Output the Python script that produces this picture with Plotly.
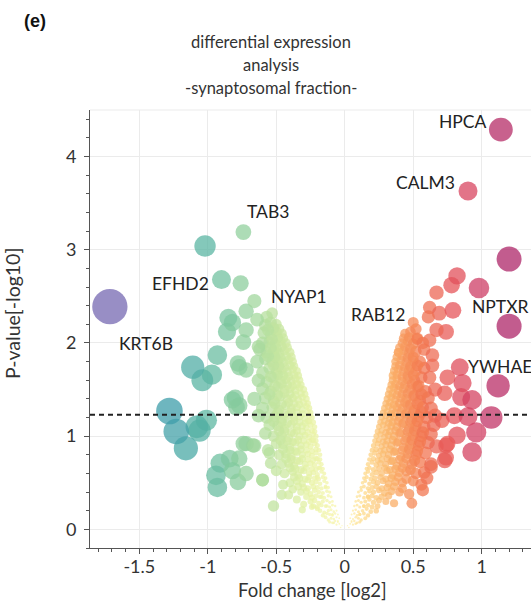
import plotly.graph_objects as go

# ---------------- data ----------------
# down-regulated proteins: fold change [log2] and p-value [-log10]
neg_fc = [
    -0.02, -0.04, -0.06, -0.08, -0.03,
    -0.04, -0.06, -0.08, -0.10, -0.12, -0.14, -0.05, -0.09,
    -0.06, -0.08, -0.10, -0.12, -0.15, -0.18, -0.20, -0.13,
    -0.09, -0.11, -0.13, -0.16, -0.19, -0.22, -0.25, -0.30, -0.35, -0.17,
    -0.11, -0.13, -0.16, -0.19, -0.22, -0.25, -0.28, -0.32, -0.38, -0.14,
    -0.13, -0.15, -0.18, -0.21, -0.24, -0.27, -0.31, -0.35, -0.40, -0.45, -0.20,
    -0.15, -0.17, -0.20, -0.23, -0.26, -0.30, -0.34, -0.38, -0.44, -0.50, -0.19,
    -0.17, -0.19, -0.22, -0.25, -0.29, -0.33, -0.37, -0.41, -0.46, -0.21,
    -0.18, -0.21, -0.24, -0.27, -0.31, -0.35, -0.39, -0.43, -0.48, -0.55,
    -0.20, -0.22, -0.25, -0.28, -0.32, -0.36, -0.40, -0.45, -0.50, -0.24,
    -0.21, -0.23, -0.26, -0.29, -0.33, -0.37, -0.41, -0.46, -0.52, -0.58,
    -0.22, -0.25, -0.28, -0.31, -0.35, -0.39, -0.44, -0.49, -0.55, -0.27,
    -0.24, -0.26, -0.29, -0.33, -0.37, -0.41, -0.46, -0.51, -0.57, -0.63,
    -0.26, -0.28, -0.31, -0.35, -0.39, -0.43, -0.48, -0.53, -0.60,
    -0.28, -0.31, -0.34, -0.38, -0.42, -0.47, -0.52, -0.58, -0.66,
    -0.30, -0.33, -0.36, -0.40, -0.44, -0.49, -0.54, -0.60,
    -0.33, -0.36, -0.39, -0.43, -0.47, -0.52, -0.57, -0.63,
    -0.35, -0.38, -0.42, -0.46, -0.50, -0.55, -0.60,
    -0.38, -0.41, -0.45, -0.49, -0.53, -0.58, -0.64,
    -0.40, -0.44, -0.48, -0.52, -0.57, -0.62,
    -0.43, -0.47, -0.51, -0.55, -0.60,
    -0.46, -0.50, -0.54, -0.59,
    -0.50, -0.54, -0.58,
    -0.53, -0.57,
    # in-between dots of the dense wedge
    -0.05, -0.07, -0.09, -0.11,
    -0.05, -0.07, -0.09, -0.11, -0.13, -0.16,
    -0.07, -0.09, -0.11, -0.14, -0.17, -0.20, -0.23,
    -0.10, -0.12, -0.15, -0.18, -0.21, -0.24, -0.28,
    -0.12, -0.14, -0.17, -0.20, -0.23, -0.27, -0.30, -0.34,
    -0.14, -0.16, -0.19, -0.22, -0.26, -0.29, -0.33, -0.37,
    -0.16, -0.18, -0.21, -0.24, -0.28, -0.32, -0.36, -0.40,
    -0.18, -0.20, -0.23, -0.27, -0.31, -0.35, -0.39, -0.43,
    -0.19, -0.21, -0.24, -0.28, -0.32, -0.36, -0.40, -0.45,
    -0.21, -0.23, -0.26, -0.30, -0.34, -0.38, -0.42, -0.47,
    -0.22, -0.24, -0.27, -0.31, -0.35, -0.39, -0.44, -0.48,
    -0.23, -0.26, -0.29, -0.33, -0.37, -0.42, -0.46, -0.52,
    -0.25, -0.27, -0.31, -0.35, -0.39, -0.44, -0.49,
    -0.27, -0.30, -0.33, -0.37, -0.41, -0.46, -0.51,
    -0.29, -0.32, -0.36, -0.40, -0.44, -0.49, -0.55,
    -0.32, -0.35, -0.38, -0.42, -0.46, -0.51,
    -0.34, -0.37, -0.41, -0.45, -0.49, -0.54,
    -0.37, -0.40, -0.44, -0.48, -0.52,
    -0.39, -0.43, -0.47, -0.51, -0.56,
    -0.42, -0.46, -0.50, -0.54,
    -0.45, -0.49, -0.53,
    -0.48, -0.52, -0.56,
    # scattered larger dots
    -0.52, -0.60, -0.46, -0.41, -0.31, -0.24, -0.74, -0.67, -0.54, -0.56,
    -0.72, -0.66, -0.77, -0.80, -0.72, -0.63, -0.77, -0.78, -0.82, -0.79,
    -0.64, -0.72, -0.74, -0.86, -0.82, -0.85, -0.72, -0.66, -0.76, -0.90,
    -0.74, -1.02, -0.93, -0.97, -1.04, -1.11, -0.91, -0.94, -0.93, -0.84,
    -0.77, -0.82, -0.78, -0.72, -0.60, -1.01, -1.06, -1.08, -1.16, -1.23,
    -1.28, -1.715,
]
neg_p = [
    0.04, 0.06, 0.05, 0.07, 0.02,
    0.12, 0.13, 0.11, 0.12, 0.10, 0.13, 0.09, 0.16,
    0.20, 0.19, 0.21, 0.20, 0.18, 0.20, 0.22, 0.25,
    0.30, 0.29, 0.31, 0.30, 0.28, 0.31, 0.30, 0.27, 0.32, 0.35,
    0.40, 0.41, 0.39, 0.40, 0.42, 0.38, 0.41, 0.40, 0.43, 0.45,
    0.50, 0.52, 0.49, 0.51, 0.50, 0.53, 0.49, 0.52, 0.50, 0.48, 0.56,
    0.60, 0.62, 0.59, 0.61, 0.60, 0.63, 0.58, 0.62, 0.60, 0.63, 0.66,
    0.70, 0.72, 0.69, 0.71, 0.70, 0.73, 0.68, 0.71, 0.70, 0.76,
    0.80, 0.82, 0.79, 0.81, 0.80, 0.83, 0.78, 0.81, 0.80, 0.82,
    0.90, 0.92, 0.89, 0.91, 0.90, 0.93, 0.88, 0.91, 0.92, 0.96,
    1.00, 1.02, 0.99, 1.01, 1.00, 1.03, 0.98, 1.01, 1.00, 1.03,
    1.10, 1.12, 1.09, 1.11, 1.10, 1.13, 1.08, 1.11, 1.12, 1.16,
    1.20, 1.22, 1.19, 1.21, 1.20, 1.23, 1.18, 1.21, 1.20, 1.22,
    1.30, 1.32, 1.29, 1.31, 1.30, 1.33, 1.28, 1.31, 1.30,
    1.40, 1.42, 1.39, 1.41, 1.40, 1.43, 1.38, 1.41, 1.40,
    1.50, 1.52, 1.49, 1.51, 1.50, 1.53, 1.48, 1.51,
    1.60, 1.62, 1.59, 1.61, 1.60, 1.63, 1.58, 1.60,
    1.70, 1.72, 1.69, 1.71, 1.70, 1.73, 1.68,
    1.80, 1.82, 1.79, 1.81, 1.80, 1.83, 1.80,
    1.90, 1.92, 1.89, 1.91, 1.90, 1.93,
    2.00, 2.02, 1.99, 2.01, 2.00,
    2.10, 2.12, 2.09, 2.11,
    2.20, 2.22, 2.19,
    2.32, 2.28,
    0.08, 0.09, 0.07, 0.08,
    0.16, 0.17, 0.15, 0.16, 0.17, 0.15,
    0.25, 0.26, 0.24, 0.25, 0.26, 0.24, 0.25,
    0.35, 0.36, 0.34, 0.35, 0.36, 0.34, 0.35,
    0.45, 0.46, 0.44, 0.45, 0.46, 0.44, 0.45, 0.46,
    0.55, 0.56, 0.54, 0.55, 0.56, 0.54, 0.55, 0.56,
    0.65, 0.66, 0.64, 0.65, 0.66, 0.64, 0.65, 0.66,
    0.75, 0.76, 0.74, 0.75, 0.76, 0.74, 0.75, 0.76,
    0.85, 0.86, 0.84, 0.85, 0.86, 0.84, 0.85, 0.86,
    0.95, 0.96, 0.94, 0.95, 0.96, 0.94, 0.95, 0.96,
    1.05, 1.06, 1.04, 1.05, 1.06, 1.04, 1.05, 1.06,
    1.15, 1.16, 1.14, 1.15, 1.16, 1.14, 1.15, 1.16,
    1.25, 1.26, 1.24, 1.25, 1.26, 1.24, 1.25,
    1.35, 1.36, 1.34, 1.35, 1.36, 1.34, 1.35,
    1.45, 1.46, 1.44, 1.45, 1.46, 1.44, 1.45,
    1.55, 1.56, 1.54, 1.55, 1.56, 1.54,
    1.65, 1.66, 1.64, 1.65, 1.66, 1.64,
    1.75, 1.76, 1.74, 1.75, 1.76,
    1.85, 1.86, 1.84, 1.85, 1.86,
    1.95, 1.96, 1.94, 1.95,
    2.05, 2.06, 2.04,
    2.15, 2.16, 2.14,
    0.25, 0.53, 0.37, 0.37, 0.21, 0.24, 0.92, 0.90, 0.71, 0.85,
    0.92, 0.90, 1.33, 1.41, 1.71, 1.96, 1.74, 1.78, 1.39, 1.31,
    2.25, 2.14, 2.01, 2.12, 2.22, 2.27, 2.34, 2.45, 2.64, 2.68,
    3.19, 3.04, 1.87, 1.66, 1.60, 1.74, 0.71, 0.58, 0.45, 0.76,
    0.76, 0.63, 0.51, 0.60, 0.53, 1.17, 1.06, 1.10, 0.87, 1.05,
    1.27, 2.39,
]

# up-regulated proteins
pos_fc = [
    0.02, 0.04, 0.06, 0.08, 0.03,
    0.04, 0.06, 0.08, 0.10, 0.12, 0.15, 0.05,
    0.06, 0.08, 0.10, 0.13, 0.16, 0.19, 0.23, 0.11,
    0.08, 0.10, 0.12, 0.15, 0.18, 0.21, 0.25, 0.30, 0.36, 0.14,
    0.10, 0.12, 0.15, 0.18, 0.21, 0.25, 0.29, 0.34, 0.40, 0.47, 0.17,
    0.13, 0.15, 0.18, 0.21, 0.24, 0.28, 0.32, 0.37, 0.42, 0.50, 0.56,
    0.15, 0.17, 0.20, 0.23, 0.27, 0.31, 0.35, 0.40, 0.45, 0.52, 0.58,
    0.17, 0.20, 0.23, 0.26, 0.30, 0.34, 0.38, 0.43, 0.49, 0.55, 0.63,
    0.19, 0.22, 0.25, 0.28, 0.32, 0.36, 0.41, 0.46, 0.52, 0.59,
    0.21, 0.24, 0.27, 0.30, 0.34, 0.38, 0.43, 0.48, 0.54, 0.61, 0.67,
    0.23, 0.26, 0.29, 0.32, 0.36, 0.40, 0.45, 0.50, 0.56, 0.63,
    0.25, 0.28, 0.31, 0.34, 0.38, 0.42, 0.47, 0.52, 0.58, 0.65,
    0.27, 0.30, 0.33, 0.36, 0.40, 0.44, 0.49, 0.54, 0.60, 0.66,
    0.29, 0.32, 0.35, 0.38, 0.42, 0.46, 0.51, 0.57, 0.63,
    0.31, 0.34, 0.37, 0.41, 0.45, 0.50, 0.55, 0.61,
    0.33, 0.36, 0.39, 0.43, 0.48, 0.53, 0.59, 0.66,
    0.35, 0.38, 0.42, 0.46, 0.51, 0.56,
    0.36, 0.39, 0.43, 0.47, 0.52, 0.58,
    0.37, 0.41, 0.45, 0.50, 0.55,
    0.39, 0.43, 0.47, 0.52, 0.58,
    0.42, 0.46, 0.50,
    0.44, 0.48, 0.52,
    # in-between dots of the dense wedge
    0.05, 0.07, 0.09, 0.11,
    0.05, 0.07, 0.09, 0.11, 0.14, 0.17,
    0.07, 0.09, 0.11, 0.14, 0.17, 0.20, 0.24,
    0.09, 0.11, 0.14, 0.17, 0.20, 0.23, 0.27, 0.32,
    0.12, 0.14, 0.17, 0.20, 0.23, 0.27, 0.31, 0.36, 0.42,
    0.14, 0.16, 0.19, 0.22, 0.26, 0.30, 0.34, 0.39, 0.45,
    0.16, 0.18, 0.21, 0.25, 0.29, 0.33, 0.37, 0.42, 0.48,
    0.18, 0.21, 0.24, 0.27, 0.31, 0.35, 0.40, 0.45, 0.51,
    0.20, 0.23, 0.26, 0.29, 0.33, 0.37, 0.42, 0.47, 0.53,
    0.22, 0.25, 0.28, 0.31, 0.35, 0.39, 0.44, 0.49, 0.55,
    0.24, 0.27, 0.30, 0.33, 0.37, 0.41, 0.46, 0.51, 0.57,
    0.26, 0.29, 0.32, 0.35, 0.39, 0.43, 0.48, 0.53,
    0.28, 0.31, 0.34, 0.37, 0.41, 0.45, 0.50, 0.56,
    0.30, 0.33, 0.36, 0.40, 0.44, 0.48, 0.53,
    0.32, 0.35, 0.38, 0.42, 0.46, 0.51, 0.56,
    0.34, 0.37, 0.40, 0.44, 0.49, 0.54,
    0.35, 0.38, 0.42, 0.46, 0.50,
    0.37, 0.40, 0.44, 0.48, 0.53,
    0.38, 0.42, 0.46, 0.50,
    0.40, 0.44, 0.48,
    0.43, 0.47,
    # scattered larger dots
    0.50, 0.39, 0.53, 0.67, 0.62, 0.69, 0.61, 0.74, 0.67, 0.53,
    0.62, 0.64, 0.64, 0.62, 0.75, 0.86, 0.73, 0.85, 0.71, 0.80,
    0.82, 0.75, 0.73, 0.74, 0.74, 0.60, 0.57, 0.49, 0.63, 0.57,
    0.78, 0.79, 0.82, 0.98, 0.84, 0.93, 0.90, 0.96, 0.93, 1.12,
    1.07, 1.20, 1.20, 0.90, 1.14,
]
pos_p = [
    0.04, 0.06, 0.05, 0.06, 0.02,
    0.12, 0.11, 0.13, 0.12, 0.10, 0.12, 0.09,
    0.20, 0.21, 0.19, 0.20, 0.22, 0.19, 0.20, 0.16,
    0.30, 0.31, 0.29, 0.30, 0.32, 0.29, 0.31, 0.30, 0.28, 0.25,
    0.40, 0.42, 0.39, 0.41, 0.40, 0.42, 0.39, 0.41, 0.40, 0.38, 0.35,
    0.50, 0.52, 0.49, 0.51, 0.50, 0.52, 0.49, 0.51, 0.50, 0.52, 0.48,
    0.60, 0.62, 0.59, 0.61, 0.60, 0.63, 0.58, 0.61, 0.62, 0.60, 0.61,
    0.70, 0.72, 0.69, 0.71, 0.70, 0.73, 0.68, 0.71, 0.70, 0.72, 0.70,
    0.80, 0.82, 0.79, 0.81, 0.80, 0.83, 0.78, 0.81, 0.80, 0.82,
    0.90, 0.92, 0.89, 0.91, 0.90, 0.93, 0.88, 0.91, 0.90, 0.93, 0.89,
    1.00, 1.02, 0.99, 1.01, 1.00, 1.03, 0.98, 1.01, 1.00, 1.02,
    1.10, 1.12, 1.09, 1.11, 1.10, 1.13, 1.08, 1.11, 1.10, 1.12,
    1.20, 1.22, 1.19, 1.21, 1.20, 1.23, 1.18, 1.21, 1.20, 1.22,
    1.30, 1.32, 1.29, 1.31, 1.30, 1.33, 1.28, 1.31, 1.30,
    1.40, 1.42, 1.39, 1.41, 1.40, 1.43, 1.38, 1.41,
    1.50, 1.52, 1.49, 1.51, 1.50, 1.53, 1.48, 1.50,
    1.60, 1.62, 1.59, 1.61, 1.60, 1.63,
    1.70, 1.72, 1.69, 1.71, 1.70, 1.73,
    1.80, 1.82, 1.79, 1.81, 1.80,
    1.90, 1.92, 1.89, 1.91, 1.93,
    2.00, 2.02, 1.99,
    2.10, 2.12, 2.15,
    0.08, 0.09, 0.07, 0.08,
    0.16, 0.17, 0.15, 0.16, 0.17, 0.15,
    0.25, 0.26, 0.24, 0.25, 0.26, 0.24, 0.25,
    0.35, 0.36, 0.34, 0.35, 0.36, 0.34, 0.35, 0.36,
    0.45, 0.46, 0.44, 0.45, 0.46, 0.44, 0.45, 0.46, 0.44,
    0.55, 0.56, 0.54, 0.55, 0.56, 0.54, 0.55, 0.56, 0.54,
    0.65, 0.66, 0.64, 0.65, 0.66, 0.64, 0.65, 0.66, 0.64,
    0.75, 0.76, 0.74, 0.75, 0.76, 0.74, 0.75, 0.76, 0.74,
    0.85, 0.86, 0.84, 0.85, 0.86, 0.84, 0.85, 0.86, 0.84,
    0.95, 0.96, 0.94, 0.95, 0.96, 0.94, 0.95, 0.96, 0.94,
    1.05, 1.06, 1.04, 1.05, 1.06, 1.04, 1.05, 1.06, 1.04,
    1.15, 1.16, 1.14, 1.15, 1.16, 1.14, 1.15, 1.16,
    1.25, 1.26, 1.24, 1.25, 1.26, 1.24, 1.25, 1.26,
    1.35, 1.36, 1.34, 1.35, 1.36, 1.34, 1.35,
    1.45, 1.46, 1.44, 1.45, 1.46, 1.44, 1.45,
    1.55, 1.56, 1.54, 1.55, 1.56, 1.54,
    1.65, 1.66, 1.64, 1.65, 1.66,
    1.75, 1.76, 1.74, 1.75, 1.76,
    1.85, 1.86, 1.84, 1.85,
    1.95, 1.96, 1.94,
    2.05, 2.06,
    2.22, 1.90, 2.05, 2.54, 2.38, 2.32, 2.28, 2.12, 2.14, 2.04,
    2.03, 1.87, 1.76, 1.63, 1.63, 1.57, 1.46, 1.42, 1.17, 1.22,
    1.01, 0.92, 0.74, 0.77, 0.90, 0.55, 0.42, 0.28, 0.67, 2.00,
    2.62, 2.35, 2.72, 2.59, 1.74, 0.83, 1.21, 1.04, 1.39, 1.54,
    1.20, 2.18, 2.90, 3.63, 4.29,
]

# labelled genes and where their names sit (data units)
label_names = ["HPCA", "CALM3", "TAB3", "EFHD2", "NYAP1", "RAB12", "NPTXR", "KRT6B", "YWHAE"]
label_fc = [0.860, 0.590, -0.564, -1.199, -0.334, 0.246, 1.137, -1.451, 1.134]
label_p = [4.382, 3.723, 3.406, 2.633, 2.499, 2.306, 2.392, 1.990, 1.753]

threshold = 1.23

x_tick_vals = [-1.5, -1, -0.5, 0, 0.5, 1]
x_tick_text = ["-1.5", "-1", "-0.5", "0", "0.5", "1"]
y_tick_vals = [0, 1, 2, 3, 4]

title_lines = ["differential expression", "analysis", "-synaptosomal fraction-"]

# colour ramp along fold change
color_stops_fc = [-1.72, -1.28, -1.0, -0.75, -0.5, -0.25, 0.0, 0.15, 0.35, 0.55, 0.8, 1.0, 1.22]
color_stops_hex = ["#7767b2", "#3e9da9", "#5db8a2", "#8fcf9d", "#c4e59f", "#e8f3a6", "#fdf5b0",
                   "#fdd98b", "#fab068", "#f37a50", "#e4525a", "#cc3b66", "#aa2468"]

# ---------------- figure ----------------
cmin, cmax = color_stops_fc[0], color_stops_fc[-1]
colorscale = [[(v - cmin) / (cmax - cmin), c] for v, c in zip(color_stops_fc, color_stops_hex)]

fc_all = neg_fc + pos_fc
p_all = neg_p + pos_p
sizes = [1 + 20 * abs(v) for v in fc_all]

FONT = "Lato, 'Open Sans', sans-serif"
W, H = 531, 603
ML, MR, MT, MB = 90, 0, 110, 55
PW, PH = W - ML - MR, H - MT - MB


def px_x(px):  # window pixel -> paper x
    return (px - ML) / PW


def px_y(py):  # window pixel -> paper y
    return (H - MB - py) / PH


fig = go.Figure()
fig.add_trace(go.Scatter(
    x=fc_all, y=p_all, mode="markers",
    marker=dict(size=sizes, color=fc_all, colorscale=colorscale, cmin=cmin, cmax=cmax,
                opacity=0.75, line=dict(width=0)),
    hoverinfo="x+y", showlegend=False,
))

for name, lx, ly in zip(label_names, label_fc, label_p):
    fig.add_annotation(x=lx, y=ly, text=name, showarrow=False, xanchor="center", yanchor="middle",
                       font=dict(family=FONT, size=17.5, color="#222"))

fig.add_hline(y=threshold, line=dict(color="#222", width=2, dash="5px,4px"))

# panel letter
fig.add_annotation(x=px_x(22), y=px_y(21), xref="paper", yref="paper", text="<b>(e)</b>",
                   showarrow=False, xanchor="left", yanchor="middle",
                   font=dict(family="Liberation Sans, Arial, sans-serif", size=18, color="#111"))

# title lines
for line, cy in zip(title_lines, [42, 65, 88]):
    fig.add_annotation(x=px_x(271), y=px_y(cy), xref="paper", yref="paper", text=line,
                       showarrow=False, xanchor="center", yanchor="middle",
                       font=dict(family=FONT, size=16.5, color="#333"))

# axis titles
fig.add_annotation(x=px_x(312), y=px_y(590), xref="paper", yref="paper", text="Fold change [log2]",
                   showarrow=False, xanchor="center", yanchor="middle",
                   font=dict(family=FONT, size=18.5, color="#333"))
fig.add_annotation(x=px_x(12), y=px_y(314), xref="paper", yref="paper", text="P-value[-log10]",
                   showarrow=False, xanchor="center", yanchor="middle", textangle=-90,
                   font=dict(family=FONT, size=19.5, color="#333"))

axis_common = dict(showline=True, linecolor="#555", linewidth=1, ticks="outside", ticklen=5,
                   tickcolor="#555", showgrid=True, gridcolor="#ebebeb", gridwidth=1, zeroline=False,
                   tickfont=dict(family=FONT, size=18, color="#333"))

fig.update_xaxes(range=[-1.86, 1.36], tickmode="array", tickvals=x_tick_vals, ticktext=x_tick_text,
                 ticklabelstandoff=-3,
                 minor=dict(tick0=0, dtick=0.1, ticks="outside", ticklen=3, tickcolor="#555", showgrid=False),
                 **axis_common)
fig.update_yaxes(range=[-0.2, 4.5], tickmode="array", tickvals=y_tick_vals, ticklabelstandoff=4,
                 minor=dict(tick0=0, dtick=0.2, ticks="outside", ticklen=3, tickcolor="#555", showgrid=False),
                 **axis_common)

fig.add_shape(type="line", xref="paper", yref="paper", x0=0, x1=1, y0=1, y1=1,
              line=dict(color="#ebebeb", width=1))

fig.update_layout(
    width=W, height=H,
    margin=dict(l=ML, r=MR, t=MT, b=MB),
    paper_bgcolor="white", plot_bgcolor="white",
)

fig.write_html("out.html", config={"displayModeBar": False},
               post_script="document.body.style.margin='0';document.body.style.overflow='hidden';")
